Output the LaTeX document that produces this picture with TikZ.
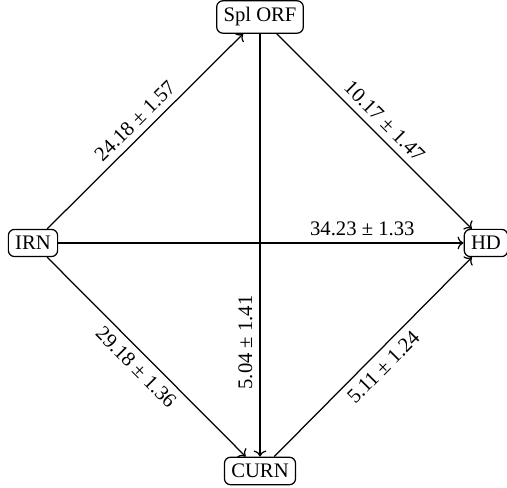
\documentclass[tikz,border=0pt]{standalone}
\usepackage{fontspec}
\setmainfont{Liberation Serif}
\usetikzlibrary{positioning,arrows.meta}

\begin{document}
\begin{tikzpicture}[>=To,semithick,
  cell/.style={draw,rounded corners=3pt,inner sep=3.3pt},
  rate/.style={sloped,font=\normalsize}]
\useasboundingbox (0,0) rectangle (8.619,8.296);
\node[cell] (spl) at (4.42,8.007) {Spl ORF};
\node[cell] (irn) at (0.561,4.165) {IRN};
\node[cell] (hd) at (8.262,4.165) {HD};
\node[cell] (curn) at (4.42,0.289) {CURN};
% transitions between compartments
\draw[->] (irn) -- (spl) node[rate,midway,above] {24.18 ± 1.57};
\draw[->] (spl) -- (hd) node[rate,midway,above] {10.17 ± 1.47};
\draw[->] (irn) -- (hd) node[pos=0.75,above] {34.23 ± 1.33};
\draw[->] (irn) -- (curn) node[rate,midway,below] {29.18 ± 1.36};
\draw[->] (spl) -- (curn) node[pos=0.73,anchor=south,rotate=90] {5.04 ± 1.41};
\draw[->] (curn) -- (hd) node[rate,midway,below] {5.11 ± 1.24};
\end{tikzpicture}
\end{document}
